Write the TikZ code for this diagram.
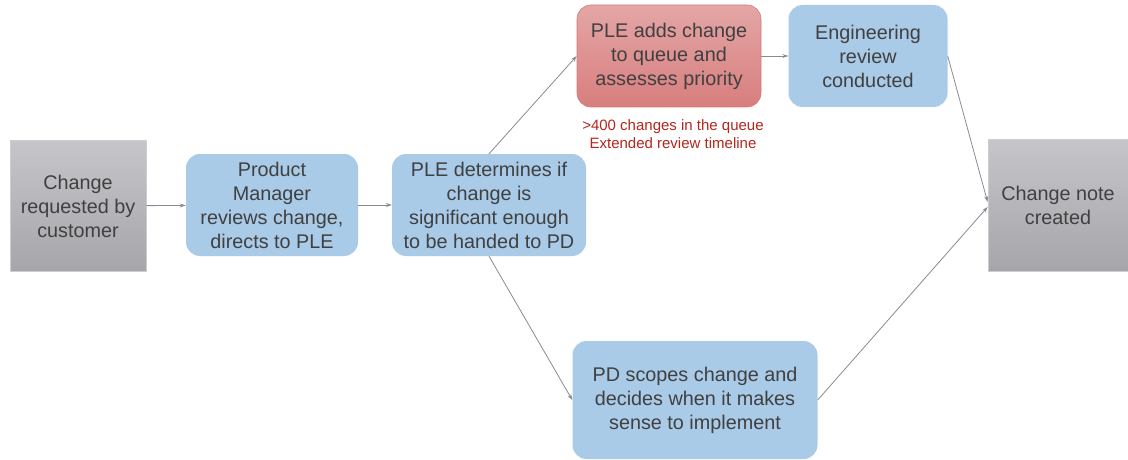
\documentclass[tikz,border=0pt]{standalone}
\usepackage{fontspec}
\setmainfont{Liberation Sans}
\usepackage{xcolor}
\usetikzlibrary{positioning,arrows.meta}
\definecolor{boxblue}{RGB}{169,203,232}
\definecolor{grayhi}{RGB}{198,197,202}
\definecolor{graylo}{RGB}{166,165,170}
\definecolor{grayedge}{RGB}{205,205,208}
\definecolor{redhi}{RGB}{228,166,166}
\definecolor{redlo}{RGB}{216,126,126}
\definecolor{rededge}{RGB}{214,120,120}
\definecolor{redtext}{RGB}{178,38,28}
\definecolor{textgray}{RGB}{64,64,64}
\definecolor{linegray}{RGB}{138,138,144}
\tikzset{
>={Stealth[length=6pt,width=4pt]},
  stepblue/.style={
    rectangle,
    rounded corners=14pt,
    fill=boxblue,
    text=textgray,
    align=center,
    inner sep=0pt,
    font=\fontsize{19.8}{24}\selectfont},
  endgray/.style={
    rectangle,
    top color=grayhi,
    bottom color=graylo,
    draw=grayedge, line width=0.8pt,
    text=textgray,
    align=center,
    inner sep=0pt,
    font=\fontsize{19.8}{24}\selectfont},
  queuered/.style={
    rectangle,
    rounded corners=14pt,
    top color=redhi,
    bottom color=redlo,
    draw=rededge, line width=0.6pt,
    text=textgray,
    align=center,
    inner sep=0pt,
    font=\fontsize{19.8}{24}\selectfont},
  note/.style={text=redtext, align=center, font=\fontsize{15}{18}\selectfont},
  flow/.style={draw=linegray, line width=0.8pt, ->},
}
\begin{document}
\begin{tikzpicture}[x=1pt,y=-1pt]
  \useasboundingbox (0,0) rectangle (1128,460);
     \node[endgray, minimum width=136, minimum height=131] (request) at (78,206) {Change\\requested by\\customer};
     \node[stepblue, minimum width=172, minimum height=102] (pm) at (272,205) {Product\\Manager\\reviews change,\\directs to PLE};
     \node[stepblue, minimum width=194, minimum height=102] (ple) at (489,205) {PLE determines if\\change is\\significant enough\\to be handed to PD};
     \node[queuered, minimum width=184, minimum height=102] (queue) at (669,56) {PLE adds change\\to queue and\\assesses priority};
     \node[note] (backlog) at (673,134) {>400 changes in the queue\\Extended review timeline};
     \node[stepblue, minimum width=159, minimum height=102] (eng) at (868,56) {Engineering\\review\\conducted};
     \node[endgray, minimum width=140, minimum height=132] (created) at (1058,205) {Change note\\created};
     \node[stepblue, minimum width=245, minimum height=118] (pd) at (695,400) {PD scopes change and\\decides when it makes\\sense to implement};

     \draw[flow] (request) -- (pm);
     \draw[flow] (pm) -- (ple);
     \draw[flow] (ple.north) -- (queue.west);
     \draw[flow] (queue) -- (eng);
     \draw[flow] (eng.east) -- ([yshift=3pt]created.west);
     \draw[flow] (ple.south) -- (pd.west);
     \draw[flow] (pd.east) -- ([yshift=-2pt]created.west);
  \end{tikzpicture}
\end{document}
